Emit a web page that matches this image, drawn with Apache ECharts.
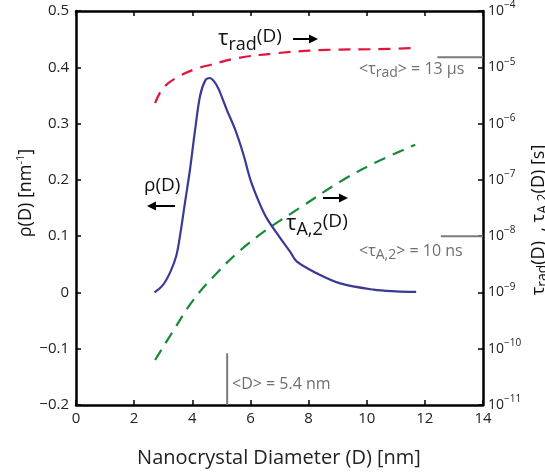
<!DOCTYPE html>
<html><head><meta charset="utf-8">
<script src="https://cdn.jsdelivr.net/npm/echarts@6/dist/echarts.min.js"></script>
<style>html,body{margin:0;padding:0;background:#fff}#c{width:545px;height:476px}</style>
</head><body><div id="c"></div>
<script>
// ---- data ----
const xTicks = [0, 2, 4, 6, 8, 10, 12, 14];
const rhoD    = [2.70, 3.00, 3.25, 3.45, 3.60, 3.75, 3.92, 4.10, 4.27, 4.45, 4.60, 4.75, 4.90, 5.19, 5.47, 5.76, 6.00, 6.30, 6.56, 7.02, 7.37, 7.59, 8.28, 9.09, 10.23, 11.00, 11.70];
const rhoVals = [0.000, 0.014, 0.037, 0.065, 0.108, 0.160, 0.218, 0.290, 0.350, 0.377, 0.381, 0.375, 0.362, 0.324, 0.290, 0.245, 0.200, 0.160, 0.132, 0.097, 0.072, 0.055, 0.034, 0.016, 0.005, 0.002, 0.001];
const tauRadD    = [2.72, 3.00, 3.52, 4.15, 4.61, 5.53, 6.91, 8.63, 10.35, 11.67];
const tauRadVals = [2.3e-6, 4.3e-6, 6.8e-6, 9.5e-6, 1.1e-5, 1.45e-5, 1.78e-5, 2.04e-5, 2.1e-5, 2.2e-5];
const tauAD    = [2.72, 3.35, 4.04, 4.84, 5.65, 6.56, 7.71, 9.09, 10.23, 11.67];
const tauAVals = [6.3e-11, 2.1e-10, 7.4e-10, 2.2e-9, 5.6e-9, 1.3e-8, 3.2e-8, 9.3e-8, 1.95e-7, 4.2e-7];
const meanTauRadLevel = 1.5e-5;   // marker level of "<τrad> = 13 μs"
const meanTauALevel   = 1.0e-8;   // marker level of "<τA,2> = 10 ns"
const markerStartD    = [12.43, 12.55];
const meanDLine = 5.2;            // "<D> = 5.4 nm" marker position
const meanDRange = [-0.2, -0.108];

const zip = (a, b) => a.map((v, i) => [v, b[i]]);
const FONT = '"Open Sans", "Noto Sans", sans-serif';
const BLUE = '#3b3896', RED = '#e3143c', GREEN = '#168a38', GRAY = '#707070', GRAYLINE = '#7a7a78';

const supRich = {
  b: { fontSize: 14, fontFamily: FONT, color: '#222' },
  s: { fontSize: 10, fontFamily: FONT, color: '#222', padding: [0, 0, 11, 0] }
};

const chart = echarts.init(document.getElementById('c'), null, { renderer: 'canvas' });

function arrow(x1, x2, y) {
  const dir = x2 > x1 ? 1 : -1;
  const tip = x2, base = x2 - dir * 9;
  return [
    { type: 'line', shape: { x1: x1, y1: y, x2: base, y2: y }, style: { stroke: '#000', lineWidth: 2 }, z: 10 },
    { type: 'polygon', shape: { points: [[tip, y], [base, y - 4.5], [base, y + 4.5]] }, style: { fill: '#000' }, z: 10 }
  ];
}

function rtext(x, y, text, rich) {
  return {
    type: 'text', x: x, y: y, z: 10,
    style: { text: text, rich: rich, fontFamily: FONT, align: 'left', verticalAlign: 'middle' }
  };
}

const K = '#111';
const blackRich = {
  t: { fontSize: 22, fontFamily: FONT, fill: K },
  s: { fontSize: 18, fontFamily: FONT, fill: K, padding: [11, 0, 0, 0] },
  p: { fontSize: 19, fontFamily: FONT, fill: K, padding: [0, 0, 4, 0] }
};
const grayRich = {
  t: { fontSize: 16, fontFamily: FONT, fill: GRAY },
  s: { fontSize: 14, fontFamily: FONT, fill: GRAY, padding: [9, 0, 0, 0] }
};
const axRich = {
  t: { fontSize: 18, fontFamily: FONT, fill: K },
  s: { fontSize: 14, fontFamily: FONT, fill: K, padding: [9, 0, 0, 0] },
  u: { fontSize: 11, fontFamily: FONT, fill: K, padding: [0, 0, 10, 0] }
};

const option = {
  animation: false,
  backgroundColor: '#fff',
  grid: { left: 76, right: 62, top: 11, bottom: 71, containLabel: false },
  xAxis: [
    {
      type: 'value', min: 0, max: 14, interval: 2, position: 'bottom',
      axisLine: { onZero: false, lineStyle: { color: '#000', width: 2.5 } },
      axisTick: { inside: true, length: 5, lineStyle: { color: '#000', width: 1.5 } },
      axisLabel: { fontSize: 15, fontFamily: FONT, color: '#222', margin: 6,
        formatter: v => xTicks.includes(v) ? String(v) : '' },
      splitLine: { show: false }
    },
    {
      type: 'value', min: 0, max: 14, interval: 2, position: 'top',
      axisLine: { onZero: false, lineStyle: { color: '#000', width: 2.5 } },
      axisTick: { inside: true, length: 5, lineStyle: { color: '#000', width: 1.5 } },
      axisLabel: { show: false }, splitLine: { show: false }
    }
  ],
  yAxis: [
    {
      type: 'value', min: -0.2, max: 0.5, interval: 0.1, position: 'left',
      axisLine: { show: true, onZero: false, lineStyle: { color: '#000', width: 2.5 } },
      axisTick: { show: true, inside: true, length: 5, lineStyle: { color: '#000', width: 1.5 } },
      axisLabel: { fontSize: 15, fontFamily: FONT, color: '#222', margin: 7,
        formatter: v => { const r = Math.round(v * 10) / 10; return r < 0 ? '\u2212' + Math.abs(r) : String(r); } },
      splitLine: { show: false }
    },
    {
      type: 'log', logBase: 10, min: 1e-11, max: 1e-4, interval: 1, position: 'right',
      axisLine: { show: true, onZero: false, lineStyle: { color: '#000', width: 2.5 } },
      axisTick: { show: true, inside: true, length: 5, lineStyle: { color: '#000', width: 1.5 } },
      minorTick: { show: false },
      axisLabel: { margin: 5, rich: supRich,
        formatter: v => { const e = Math.round(Math.log10(v)); return '{b|10}{s|\u2212' + Math.abs(e) + '}'; } },
      splitLine: { show: false }
    }
  ],
  series: [
    { name: 'rho', type: 'line', xAxisIndex: 0, yAxisIndex: 0, data: zip(rhoD, rhoVals),
      smooth: 0.35, showSymbol: false, lineStyle: { color: BLUE, width: 2.2 }, z: 3 },
    { name: 'tauRad', type: 'line', xAxisIndex: 0, yAxisIndex: 1, data: zip(tauRadD, tauRadVals),
      smooth: 0.4, showSymbol: false, lineStyle: { color: RED, width: 2.2, type: [12, 8] }, z: 2 },
    { name: 'tauA', type: 'line', xAxisIndex: 0, yAxisIndex: 1, data: zip(tauAD, tauAVals),
      smooth: 0.4, showSymbol: false, lineStyle: { color: GREEN, width: 2.2, type: [12, 8] }, z: 2 },
    { name: 'mTauRad', type: 'line', xAxisIndex: 0, yAxisIndex: 1, data: [[markerStartD[0], meanTauRadLevel], [14, meanTauRadLevel]],
      showSymbol: false, lineStyle: { color: GRAYLINE, width: 2 }, z: 1 },
    { name: 'mTauA', type: 'line', xAxisIndex: 0, yAxisIndex: 1, data: [[markerStartD[1], meanTauALevel], [14, meanTauALevel]],
      showSymbol: false, lineStyle: { color: GRAYLINE, width: 2 }, z: 1 },
    { name: 'mD', type: 'line', xAxisIndex: 0, yAxisIndex: 0, data: [[meanDLine, meanDRange[0]], [meanDLine, meanDRange[1]]],
      showSymbol: false, lineStyle: { color: GRAYLINE, width: 2 }, z: 1 }
  ],
  graphic: [
    rtext(218, 39, '{t|\u03c4}{s|rad}{p|(D)}', blackRich),
    ...arrow(293, 318, 39),
    rtext(144, 188, '{p|\u03c1(D)}', blackRich),
    ...arrow(175, 147, 206),
    rtext(286, 224, '{t|\u03c4}{s|A,2}{p|(D)}', blackRich),
    ...arrow(323, 348, 198),
    rtext(359, 69, '{t|<\u03c4}{s|rad}{t|> = 13 \u03bcs}', grayRich),
    rtext(359, 251, '{t|<\u03c4}{s|A,2}{t|> = 10 ns}', grayRich),
    { type: 'text', x: 232, y: 384, z: 10, style: { text: '<D> = 5.4 nm', fontFamily: FONT, fontSize: 16, fill: GRAY, align: 'left', verticalAlign: 'middle' } },
    { type: 'text', x: 279, y: 458, z: 10, style: { text: 'Nanocrystal Diameter (D) [nm]', fontFamily: FONT, fontSize: 20, fill: '#222', align: 'center', verticalAlign: 'middle' } },
    { type: 'text', x: 26, y: 193, rotation: Math.PI / 2, z: 10,
      style: { text: '{t|\u03c1(D) [nm}{u|-1}{t|]}', rich: axRich, align: 'center', verticalAlign: 'middle' } },
    { type: 'text', x: 539, y: 220, rotation: Math.PI / 2, z: 10,
      style: { text: '{t|\u03c4}{s|rad}{t|(D)  , \u03c4}{s|A,2}{t|(D) [s]}', rich: axRich, align: 'center', verticalAlign: 'middle' } }
  ]
};
chart.setOption(option);
</script>
</body></html>
